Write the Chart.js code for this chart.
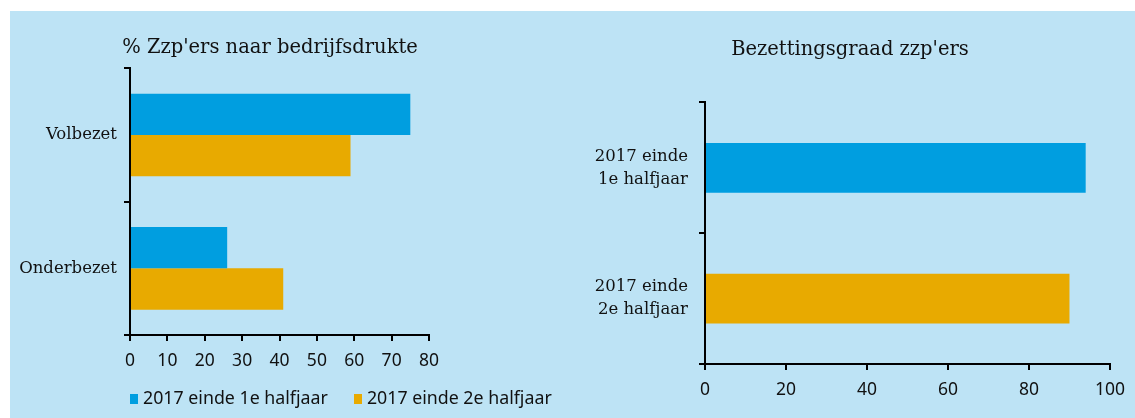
<!DOCTYPE html>
<html>
<head>
<meta charset="utf-8">
<script src="https://cdn.jsdelivr.net/npm/chart.js@4"></script>
<style>
  body { margin: 0; background: #fff; width: 1135px; height: 418px; position: relative; overflow: hidden; }
  #panel { position: absolute; left: 10px; top: 11px; width: 1125px; height: 407px; background: #bde3f5; }
  #leftWrap { position: absolute; left: 0; top: 0; width: 540px; height: 380px; }
  #rightWrap { position: absolute; left: 565px; top: 0; width: 570px; height: 400px; }
  #legend { position: absolute; left: 130px; top: 385px; font: 17.8px "Noto Sans", sans-serif; color: #111; white-space: nowrap; }
  #legend span.item { display: inline-block; margin-right: 26px; }
  #legend i { display: inline-block; width: 8px; height: 10px; margin-right: 5px; vertical-align: 0px; }
</style>
</head>
<body>
<div id="panel"></div>
<div id="leftWrap"><canvas id="left"></canvas></div>
<div id="rightWrap"><canvas id="right"></canvas></div>
<div id="legend"></div>
<script>
const leftTitle = "% Zzp'ers naar bedrijfsdrukte";
const leftCategories = ["Volbezet", "Onderbezet"];
const seriesNames = ["2017 einde 1e halfjaar", "2017 einde 2e halfjaar"];
const firstHalf = [75, 26];
const secondHalf = [59, 41];

const rightTitle = "Bezettingsgraad zzp'ers";
const rightCategories = [["2017 einde", "1e halfjaar"], ["2017 einde", "2e halfjaar"]];
const occupancy = [94, 90];

const blue = "#009ee0";
const orange = "#e8aa00";
const serif = "'DejaVu Serif', serif";
const sans = "'Noto Sans', sans-serif";

Chart.defaults.color = "#111";
Chart.defaults.animation = false;

function fixedGrid(offset) {
  return { drawOnChartArea: false, drawTicks: true, tickLength: 6, color: "#000", lineWidth: 2, offset };
}

// invisible axis on the right that only reserves space
function spacer(w) {
  return {
    axis: "y", position: "right", display: true,
    grid: { display: false }, border: { display: false }, ticks: { display: false },
    afterFit: s => { s.width = w; }
  };
}

function makeChart(id, cfg) {
  return new Chart(document.getElementById(id), {
    type: "bar",
    data: cfg.data,
    options: {
      indexAxis: "y",
      responsive: true,
      maintainAspectRatio: false,
      layout: { padding: 0 },
      datasets: { bar: { categoryPercentage: cfg.catPct, barPercentage: 1 } },
      scales: {
        x: {
          min: 0, max: cfg.max,
          border: { color: "#000", width: 2 },
          grid: fixedGrid(false),
          ticks: { stepSize: cfg.step, padding: 10, font: { family: sans, size: 17.5 } },
          afterFit: s => { s.height = cfg.xHeight; }
        },
        y: {
          border: { color: "#000", width: 2 },
          grid: fixedGrid(true),
          ticks: { padding: cfg.yPad, font: { family: serif, size: 16.5, lineHeight: 1.4 } },
          afterFit: s => { s.width = cfg.yWidth; }
        },
        pad: spacer(cfg.rightPad)
      },
      plugins: {
        legend: { display: false },
        tooltip: { enabled: false },
        title: {
          display: true, text: cfg.title, color: "#111",
          font: { family: serif, size: 19.5, weight: "normal" },
          padding: cfg.titlePad
        }
      }
    }
  });
}

makeChart("left", {
  data: {
    labels: leftCategories,
    datasets: [
      { label: seriesNames[0], data: firstHalf, backgroundColor: blue },
      { label: seriesNames[1], data: secondHalf, backgroundColor: orange }
    ]
  },
  title: leftTitle, max: 80, step: 10, catPct: 0.62,
  xHeight: 45, yWidth: 130, rightPad: 111, yPad: 7,
  titlePad: { top: 36, bottom: 9 }
});

makeChart("right", {
  data: {
    labels: rightCategories,
    datasets: [{ data: occupancy, backgroundColor: [blue, orange] }]
  },
  title: rightTitle, max: 100, step: 20, catPct: 0.38,
  xHeight: 36, yWidth: 140, rightPad: 24, yPad: 11,
  titlePad: { top: 38, bottom: 41 }
});

document.getElementById("legend").innerHTML = seriesNames.map((n, i) =>
  `<span class="item"><i style="background:${i ? orange : blue}"></i>${n}</span>`).join("");
</script>
</body>
</html>
